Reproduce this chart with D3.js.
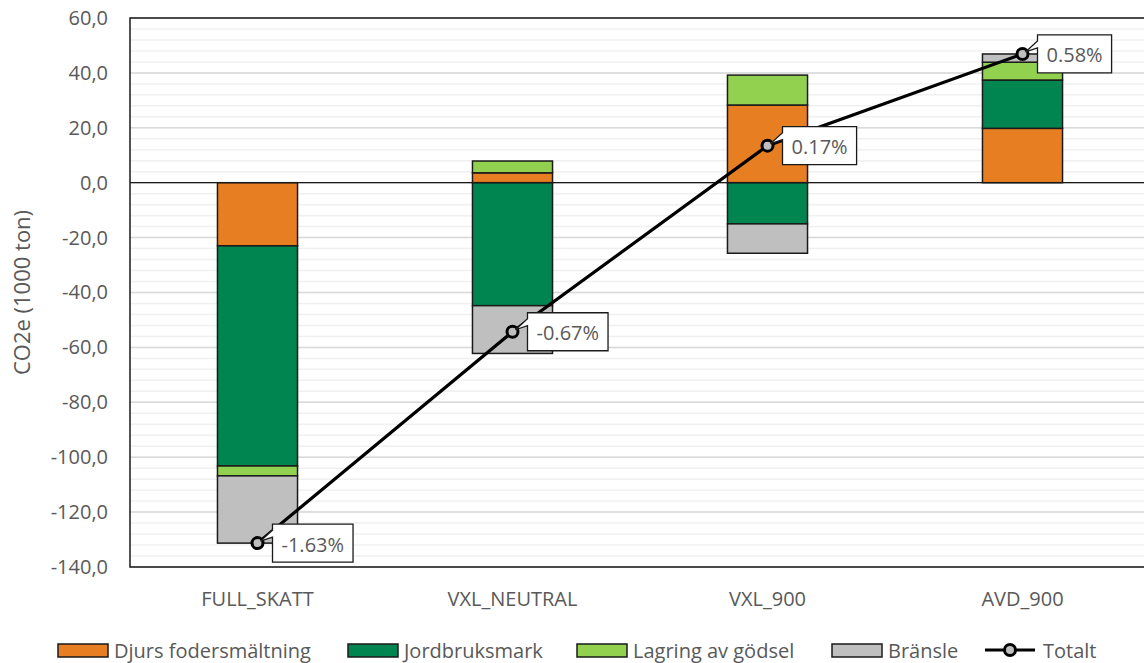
<!DOCTYPE html>
<html>
<head>
<meta charset="utf-8">
<script src="https://cdn.jsdelivr.net/npm/d3@7/dist/d3.min.js"></script>
<style>
  html, body { margin: 0; padding: 0; background: #fff; }
  svg { display: block; font-family: "Open Sans", Lato, sans-serif; }
</style>
</head>
<body>
<svg id="chart" width="1144" height="663"></svg>
<script>
// Scenarios on the x axis
const scenarios = ["FULL_SKATT", "VXL_NEUTRAL", "VXL_900", "AVD_900"];

// Emission sources (stacked series), CO2e in 1000 ton
const sources = ["Djurs fodersmältning", "Jordbruksmark", "Lagring av gödsel", "Bränsle"];
const djurs     = [-23.0,   3.6, 28.3, 19.8];
const jordbruk  = [-80.2, -44.8, -15.0, 17.6];
const lagring   = [ -3.6,   4.3, 10.9,  6.5];
const bransle   = [-24.5, -17.4, -10.7,  3.0];

// Relative change labels shown at the total markers
const totalLabels = ["-1.63%", "-0.67%", "0.17%", "0.58%"];

// Y axis ticks
const yTicks = [60, 40, 20, 0, -20, -40, -60, -80, -100, -120, -140];

const colors = ["#E87E22", "#008550", "#92D050", "#BFBFBF"];
const textColor = "#595959";

const svg = d3.select("#chart");
const plot = { left: 130, right: 1150, top: 18, bottom: 567 };

const seriesValues = [djurs, jordbruk, lagring, bransle];
const rows = scenarios.map((s, i) => {
  const r = { scenario: s };
  sources.forEach((k, j) => { r[k] = seriesValues[j][i]; });
  return r;
});
const totals = scenarios.map((s, i) => d3.sum(seriesValues, v => v[i]));

const x = d3.scaleBand()
  .domain(scenarios)
  .range([plot.left, plot.right])
  .paddingInner(0.686)
  .paddingOuter(0.343);

const y = d3.scaleLinear()
  .domain([-140, 60])
  .range([plot.bottom, plot.top]);

const sv = d3.formatLocale({ decimal: ",", thousands: " ", grouping: [3], currency: ["", " kr"], minus: "-" });
const fmt = sv.format(".1f");

// Minor gridlines every 4 units, major every 20
const minor = d3.range(-140, 60.01, 4);
svg.append("g").selectAll("line").data(minor).join("line")
  .attr("x1", plot.left).attr("x2", plot.right)
  .attr("y1", d => y(d)).attr("y2", d => y(d))
  .attr("stroke", "#f0f0f0").attr("stroke-width", 1.5);

svg.append("g").selectAll("line").data(yTicks).join("line")
  .attr("x1", plot.left).attr("x2", plot.right)
  .attr("y1", d => y(d)).attr("y2", d => y(d))
  .attr("stroke", "#d9d9d9").attr("stroke-width", 1.5);

// Y axis labels
const yAxis = svg.append("g")
  .attr("transform", `translate(${plot.left},0)`)
  .call(d3.axisLeft(y).tickValues(yTicks).tickFormat(fmt).tickSize(0).tickPadding(22));
yAxis.select(".domain").remove();
yAxis.selectAll("text")
  .attr("fill", textColor)
  .style("font-size", "20px")
  .style("font-family", "'Open Sans', sans-serif");

// Stacked bars
const stack = d3.stack().keys(sources).offset(d3.stackOffsetDiverging);
const stacked = stack(rows);

svg.append("g").selectAll("g").data(stacked).join("g")
  .attr("fill", (d, i) => colors[i])
  .selectAll("rect").data(d => d).join("rect")
  .attr("x", d => x(d.data.scenario))
  .attr("width", x.bandwidth())
  .attr("y", d => y(Math.max(d[0], d[1])))
  .attr("height", d => Math.abs(y(d[0]) - y(d[1])))
  .attr("stroke", "#1a1a1a")
  .attr("stroke-width", 1.5);

// Zero line
svg.append("line")
  .attr("x1", plot.left).attr("x2", plot.right)
  .attr("y1", y(0)).attr("y2", y(0))
  .attr("stroke", "#1a1a1a").attr("stroke-width", 1.2);

// Plot border (left, top, bottom)
svg.append("path")
  .attr("d", `M${plot.right},${plot.top}H${plot.left}V${plot.bottom}H${plot.right}`)
  .attr("fill", "none")
  .attr("stroke", "#1a1a1a")
  .attr("stroke-width", 1.5);

// X axis labels
const xAxis = svg.append("g")
  .attr("transform", `translate(0,${plot.bottom})`)
  .call(d3.axisBottom(x).tickSize(0).tickPadding(25));
xAxis.select(".domain").remove();
xAxis.selectAll("text")
  .attr("fill", textColor)
  .style("font-size", "20px")
  .style("font-family", "'Open Sans', sans-serif");

// Y axis title
svg.append("text")
  .attr("transform", `translate(30,${(plot.top + plot.bottom) / 2}) rotate(-90)`)
  .attr("text-anchor", "middle")
  .attr("fill", textColor)
  .style("font-size", "22px")
  .text("CO2e (1000 ton)");

// Total line with markers
const cx = s => x(s) + x.bandwidth() / 2;
const totalPts = scenarios.map((s, i) => [cx(s), y(totals[i])]);

svg.append("path")
  .attr("d", d3.line()(totalPts))
  .attr("fill", "none")
  .attr("stroke", "#000")
  .attr("stroke-width", 3.2);

svg.append("g").selectAll("circle").data(totalPts).join("circle")
  .attr("cx", d => d[0]).attr("cy", d => d[1]).attr("r", 5.5)
  .attr("fill", "#BFBFBF").attr("stroke", "#000").attr("stroke-width", 3);

// Callout labels
const labels = svg.append("g");
totalPts.forEach((p, i) => {
  const g = labels.append("g");
  const path = g.append("path");
  const t = g.append("text")
    .attr("fill", textColor)
    .style("font-size", "20px")
    .attr("dominant-baseline", "central")
    .text(totalLabels[i]);
  const w = t.node().getComputedTextLength() + 18;
  const h = 38;
  const x0 = p[0] + 15, y0 = p[1] - h / 2;
  t.attr("x", x0 + 9).attr("y", p[1] + 1);
  path.attr("d", `M${x0},${y0 + 6}V${y0}H${x0 + w}V${y0 + h}H${x0}V${y0 + 13}L${p[0] + 3},${p[1] - 2}Z`)
    .attr("fill", "#fff")
    .attr("stroke", "#1a1a1a")
    .attr("stroke-width", 1.3);
});

// Legend
const legendY = 650;
const legendStarts = [58, 348, 577, 832, 985];
const legend = svg.append("g");
sources.forEach((k, i) => {
  const lx = legendStarts[i];
  legend.append("rect")
    .attr("x", lx).attr("y", legendY - 6).attr("width", 50).attr("height", 13)
    .attr("fill", colors[i]).attr("stroke", "#1a1a1a").attr("stroke-width", 1.5);
  legend.append("text")
    .attr("x", lx + 56).attr("y", legendY)
    .attr("dominant-baseline", "central")
    .attr("fill", textColor)
    .style("font-size", "20px")
    .text(k);
});
{
  const lx = legendStarts[4];
  legend.append("line")
    .attr("x1", lx).attr("x2", lx + 50).attr("y1", legendY).attr("y2", legendY)
    .attr("stroke", "#000").attr("stroke-width", 3.2);
  legend.append("circle")
    .attr("cx", lx + 25).attr("cy", legendY).attr("r", 5.5)
    .attr("fill", "#BFBFBF").attr("stroke", "#000").attr("stroke-width", 3);
  legend.append("text")
    .attr("x", lx + 58).attr("y", legendY)
    .attr("dominant-baseline", "central")
    .attr("fill", textColor)
    .style("font-size", "20px")
    .text("Totalt");
}
</script>
</body>
</html>
